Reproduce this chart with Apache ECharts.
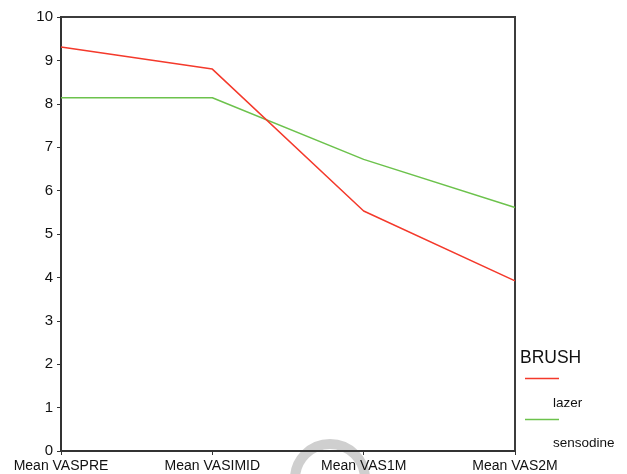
<!DOCTYPE html>
<html>
<head>
<meta charset="utf-8">
<script src="https://cdn.jsdelivr.net/npm/echarts@6/dist/echarts.min.js"></script>
<style>
  html, body { margin: 0; padding: 0; background: #ffffff; }
  #chart { width: 627px; height: 474px; }
</style>
</head>
<body>
<div id="chart"></div>
<script>
// Mean VAS scores per time point, grouped by brush type
const categories = ['Mean VASPRE', 'Mean VASIMID', 'Mean VAS1M', 'Mean VAS2M'];
const lazerValues = [9.31, 8.80, 5.53, 3.92];
const sensodineValues = [8.14, 8.14, 6.72, 5.61];
const seriesNames = ['lazer', 'sensodine'];
const legendTitle = 'BRUSH';
const yTicks = [0, 1, 2, 3, 4, 5, 6, 7, 8, 9, 10];

const RED = '#f4392b';
const GREEN = '#6cc24c';
const FONT = '"Liberation Sans", Arial, sans-serif';

const chart = echarts.init(document.getElementById('chart'), null, { renderer: 'canvas' });

chart.setOption({
  animation: false,
  backgroundColor: '#ffffff',
  grid: {
    left: 61, right: 112, top: 17, bottom: 23,
    show: true, borderColor: '#3c3c3c', borderWidth: 2, backgroundColor: 'transparent'
  },
  xAxis: {
    type: 'category',
    data: categories,
    boundaryGap: false,
    axisLine: { lineStyle: { color: '#333', width: 2 } },
    axisTick: { show: true, length: 4, lineStyle: { color: '#333', width: 1 } },
    axisLabel: { fontFamily: FONT, fontSize: 14, color: '#111', margin: 8 },
    splitLine: { show: false }
  },
  yAxis: {
    type: 'value',
    min: yTicks[0],
    max: yTicks[yTicks.length - 1],
    interval: 1,
    axisLine: { show: true, lineStyle: { color: '#333', width: 2 } },
    axisTick: { show: true, length: 4, lineStyle: { color: '#333', width: 1 } },
    axisLabel: { fontFamily: FONT, fontSize: 15, color: '#111', margin: 8 },
    splitLine: { show: false }
  },
  series: [
    {
      name: seriesNames[0], type: 'line', data: lazerValues,
      symbol: 'none', lineStyle: { color: RED, width: 1.5 }, z: 3
    },
    {
      name: seriesNames[1], type: 'line', data: sensodineValues,
      symbol: 'none', lineStyle: { color: GREEN, width: 1.5 }, z: 2
    }
  ],
  graphic: [
    // faint grey ring near the bottom edge
    {
      type: 'arc', z: -10, silent: true,
      shape: { cx: 330, cy: 479, r: 35, startAngle: Math.PI, endAngle: 2 * Math.PI },
      style: { stroke: '#cfcfcf', lineWidth: 10, fill: null }
    },
    // legend
    {
      type: 'text', left: 520, top: 349,
      style: { text: legendTitle, font: '17.5px ' + FONT, fill: '#111' }
    },
    {
      type: 'line',
      shape: { x1: 525, y1: 378.5, x2: 559, y2: 378.5 },
      style: { stroke: RED, lineWidth: 1.5 }
    },
    {
      type: 'text', left: 553, top: 396,
      style: { text: seriesNames[0], font: '13.5px ' + FONT, fill: '#111' }
    },
    {
      type: 'line',
      shape: { x1: 525, y1: 419.5, x2: 559, y2: 419.5 },
      style: { stroke: GREEN, lineWidth: 1.5 }
    },
    {
      type: 'text', left: 553, top: 436,
      style: { text: seriesNames[1], font: '13.5px ' + FONT, fill: '#111' }
    }
  ]
});
</script>
</body>
</html>
